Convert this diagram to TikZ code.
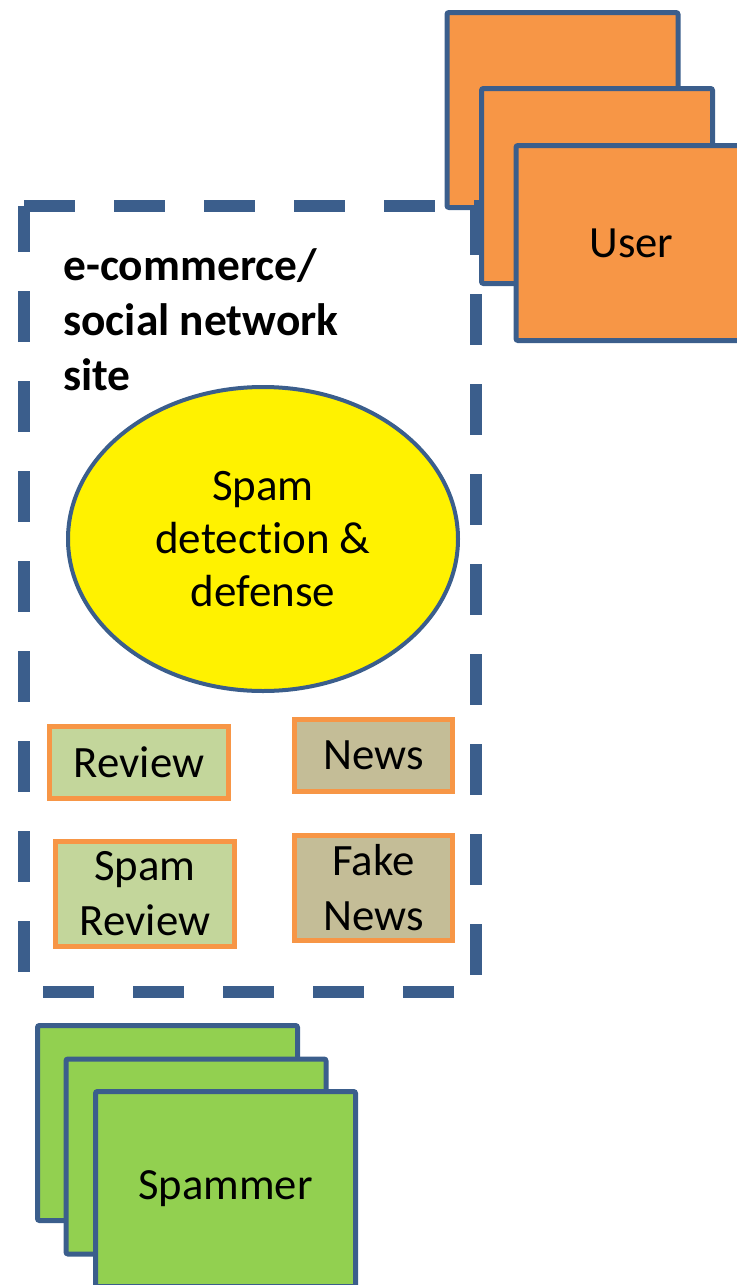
\documentclass[tikz,border=0pt]{standalone}
\usepackage{fontspec}
\setmainfont{Carlito}[Ligatures=NoCommon]
\usetikzlibrary{shapes.geometric, positioning}
\definecolor{edgeblue}{HTML}{3B5E8C}
\definecolor{userorange}{HTML}{F79646}
\definecolor{spamgreen}{HTML}{92D050}
\definecolor{reviewgreen}{HTML}{C3D69B}
\definecolor{newstan}{HTML}{C4BD97}

\begin{document}
\begin{tikzpicture}[x=0.5pt, y=-0.5pt,
  card/.style={rectangle, draw=edgeblue, line width=2.5pt, rounded corners=1pt,
    inner sep=0pt, minimum width=115.5pt, minimum height=97.5pt,
    font=\fontsize{22.3}{27}\selectfont},
  usercard/.style={card, fill=userorange},
  spamcard/.style={card, fill=spamgreen, minimum width=130pt},
  sitebox/.style={draw=edgeblue, line width=6pt, dash pattern=on 25.5pt off 19.5pt},
  sitelabel/.style={anchor=north west, inner sep=0pt, align=left,
    font=\bfseries\fontsize{22.7}{27.5}\selectfont},
  detector/.style={ellipse, draw=edgeblue, line width=2pt, fill=yellow,
    minimum width=195pt, minimum height=152pt, inner sep=0pt, align=center,
    font=\fontsize{22.5}{26.5}\selectfont},
  post/.style={rectangle, draw=userorange, line width=2.5pt, inner sep=0pt,
    align=center, minimum height=36pt, font=\fontsize{22.4}{27.5}\selectfont},
  review/.style={post, fill=reviewgreen, minimum width=89.5pt},
  news/.style={post, fill=newstan, minimum width=79pt}]
\useasboundingbox (0,0) rectangle (736,1285);

% users
\node[usercard] (user1) at (562.5,110) {};

% site
\coordinate (siteTL) at (24,206);
\coordinate (siteTR) at (476,206);
\coordinate (siteBR) at (476,992);
\coordinate (siteBL) at (24,992);
\draw[sitebox] (siteTL) -- (siteTR) -- (siteBR) -- (siteBL) -- cycle;
\node[sitelabel] (sitename) at (63,248) {e-commerce/\\social network\\site};
\node[detector] (detect) at (263,539) {Spam\\detection \&\\defense};
\node[review] (rev) at (139,762.5) {Review};
\node[news] (news) at (373.5,755.5) {News};
\node[review, minimum height=52.5pt] (spamrev) at (145,894) {Spam\\Review};
\node[news, minimum height=52.5pt] (fakenews) at (373.5,888) {Fake\\News};

\node[usercard] (user2) at (597,186) {};
\node[usercard] (user3) at (631.5,243) {User};

% spammers
\node[spamcard] (spammer1) at (167.5,1123) {};
\node[spamcard] (spammer2) at (196,1156.5) {};
\node[spamcard] (spammer3) at (225.5,1189) {Spammer};
\end{tikzpicture}
\end{document}
